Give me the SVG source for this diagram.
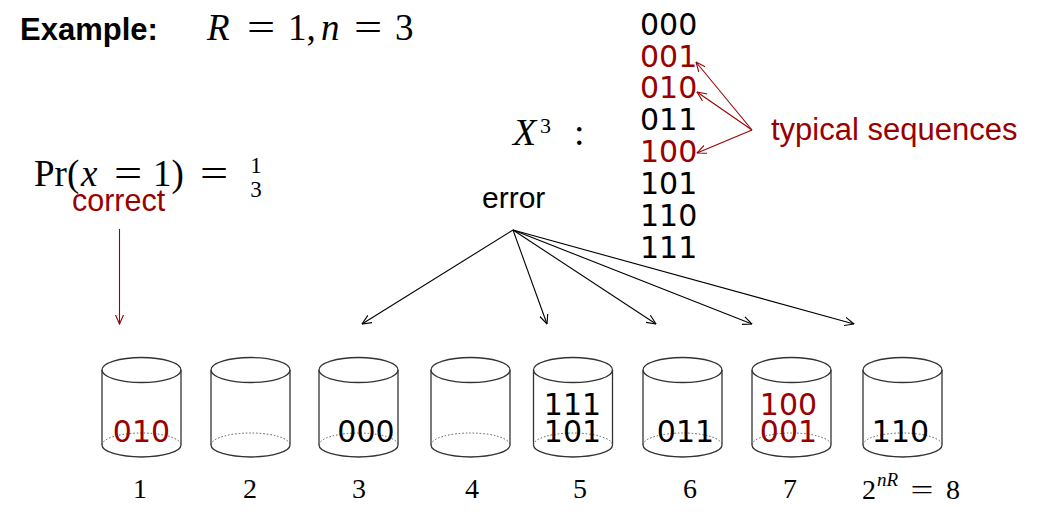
<svg xmlns="http://www.w3.org/2000/svg" xmlns:xlink="http://www.w3.org/1999/xlink" width="1046" height="515" viewBox="0 0 1046 515">
<style>
.sans{font-family:"Liberation Sans",Arial,sans-serif}
.mono{font-family:"DejaVu Sans",sans-serif;font-size:30px}
.serif{font-family:"Liberation Serif","Times New Roman",serif}
.it{font-style:italic}
.red{fill:#990000}
.blk{fill:#000}
.cyl{fill:none;stroke:#333;stroke-width:1.3}
.dot{fill:none;stroke:#555;stroke-width:1;stroke-dasharray:1.5 2}
.conn{fill:none;stroke:#000;stroke-width:1.1}
.connr{fill:none;stroke:#990000;stroke-width:1.1}
.lbl{font-family:"Liberation Serif","Times New Roman",serif;font-size:28px;text-anchor:middle}
.eq{font-family:"Liberation Serif","Times New Roman",serif;text-anchor:middle}
</style>
<defs>
<marker id="ah" viewBox="0 0 10 10" refX="9.5" refY="5" markerWidth="10" markerHeight="10" markerUnits="userSpaceOnUse" orient="auto">
<path d="M0,0.8 L9.5,5 L0,9.2" fill="none" stroke="#000" stroke-width="1.1"/>
</marker>
<marker id="ahr" viewBox="0 0 10 10" refX="9.5" refY="5" markerWidth="10" markerHeight="10" markerUnits="userSpaceOnUse" orient="auto">
<path d="M0,0.8 L9.5,5 L0,9.2" fill="none" stroke="#990000" stroke-width="1.1"/>
</marker>
<g id="cylshape">
<ellipse class="cyl" cx="0" cy="370" rx="39.5" ry="12.5"/>
<line class="cyl" x1="-39.5" y1="370" x2="-39.5" y2="445"/>
<line class="cyl" x1="39.5" y1="370" x2="39.5" y2="445"/>
<path class="cyl" d="M-39.5,445 A39.5,12 0 0 0 39.5,445"/>
<path class="dot" d="M-39.5,445 A39.5,12 0 0 1 39.5,445"/>
</g>
</defs>
<rect width="1046" height="515" fill="#fff"/>

<g id="title">
<text class="sans" x="20" y="40" font-size="31" font-weight="bold">Example:</text>
<text class="serif" y="40" font-size="37"><tspan x="207" class="it">R</tspan><tspan x="288">1,</tspan><tspan x="321" class="it">n</tspan><tspan x="395">3</tspan></text>
<text class="eq" font-size="37" transform="translate(261,40) scale(1.35,1)">=</text>
<text class="eq" font-size="37" transform="translate(368,40) scale(1.35,1)">=</text>
</g>

<g id="prob">
<text class="serif" y="186" font-size="37"><tspan x="34">Pr(</tspan><tspan x="81" class="it">x</tspan><tspan x="153">1)</tspan></text>
<text class="eq" font-size="37" transform="translate(128,186) scale(1.35,1)">=</text>
<text class="eq" font-size="37" transform="translate(214,186) scale(1.35,1)">=</text>
<text class="serif" x="256" y="173" font-size="23" text-anchor="middle">1</text>
<text class="serif" x="256" y="197" font-size="23" text-anchor="middle">3</text>
</g>

<g id="correct">
<text class="sans red" x="72" y="211" font-size="30.5">correct</text>
</g>

<g id="xset">
<text class="serif" y="145" font-size="38"><tspan x="513" class="it">X</tspan><tspan x="540" y="133" font-size="22">3</tspan><tspan x="574" y="145">:</tspan></text>
</g>

<g id="sequences" class="mono">
<text x="640" y="35" class="blk">000</text>
<text x="640" y="67" class="red">001</text>
<text x="640" y="98" class="red">010</text>
<text x="640" y="130" class="blk">011</text>
<text x="640" y="162" class="red">100</text>
<text x="640" y="194" class="blk">101</text>
<text x="640" y="226" class="blk">110</text>
<text x="640" y="258" class="blk">111</text>
</g>

<g id="typical">
<text class="sans red" x="771" y="140" font-size="31">typical sequences</text>
</g>

<g id="error">
<text class="sans" x="482" y="208" font-size="30">error</text>
</g>

<g id="connectors">
<line class="connr" x1="752" y1="130" x2="696" y2="62" marker-end="url(#ahr)"/>
<line class="connr" x1="752" y1="130" x2="697" y2="92" marker-end="url(#ahr)"/>
<line class="connr" x1="752" y1="130" x2="697" y2="153" marker-end="url(#ahr)"/>
<line class="connr" x1="119.5" y1="229" x2="119.5" y2="324" marker-end="url(#ahr)"/>
<line class="conn" x1="513" y1="230" x2="362" y2="324" marker-end="url(#ah)"/>
<line class="conn" x1="513" y1="230" x2="547" y2="324" marker-end="url(#ah)"/>
<line class="conn" x1="513" y1="230" x2="656" y2="324" marker-end="url(#ah)"/>
<line class="conn" x1="513" y1="230" x2="752" y2="324" marker-end="url(#ah)"/>
<line class="conn" x1="513" y1="230" x2="854" y2="324" marker-end="url(#ah)"/>
</g>

<g id="bin1"><use xlink:href="#cylshape" x="141.5"/><text class="mono red" x="141.5" y="442" text-anchor="middle">010</text><text class="lbl" x="140" y="498">1</text></g>
<g id="bin2"><use xlink:href="#cylshape" x="250.5"/><text class="lbl" x="250" y="498">2</text></g>
<g id="bin3"><use xlink:href="#cylshape" x="358.5"/><text class="mono blk" x="366" y="442" text-anchor="middle">000</text><text class="lbl" x="359" y="498">3</text></g>
<g id="bin4"><use xlink:href="#cylshape" x="470.5"/><text class="lbl" x="472" y="498">4</text></g>
<g id="bin5"><use xlink:href="#cylshape" x="573"/><text class="mono blk" x="572.5" y="415" text-anchor="middle">111</text><text class="mono blk" x="572.5" y="442" text-anchor="middle">101</text><text class="lbl" x="580" y="498">5</text></g>
<g id="bin6"><use xlink:href="#cylshape" x="682.5"/><text class="mono blk" x="685.5" y="442" text-anchor="middle">011</text><text class="lbl" x="690" y="498">6</text></g>
<g id="bin7"><use xlink:href="#cylshape" x="791.5"/><text class="mono red" x="788.5" y="415" text-anchor="middle">100</text><text class="mono red" x="788.5" y="442" text-anchor="middle">001</text><text class="lbl" x="790" y="498">7</text></g>
<g id="bin8"><use xlink:href="#cylshape" x="902.5"/><text class="mono blk" x="900.5" y="442" text-anchor="middle">110</text><text class="serif" y="499" font-size="28"><tspan x="862">2</tspan><tspan x="877" y="486" font-size="19" class="it">nR</tspan><tspan x="946" y="499">8</tspan></text><text class="eq" font-size="28" transform="translate(922,499) scale(1.45,1)">=</text></g>
</svg>
